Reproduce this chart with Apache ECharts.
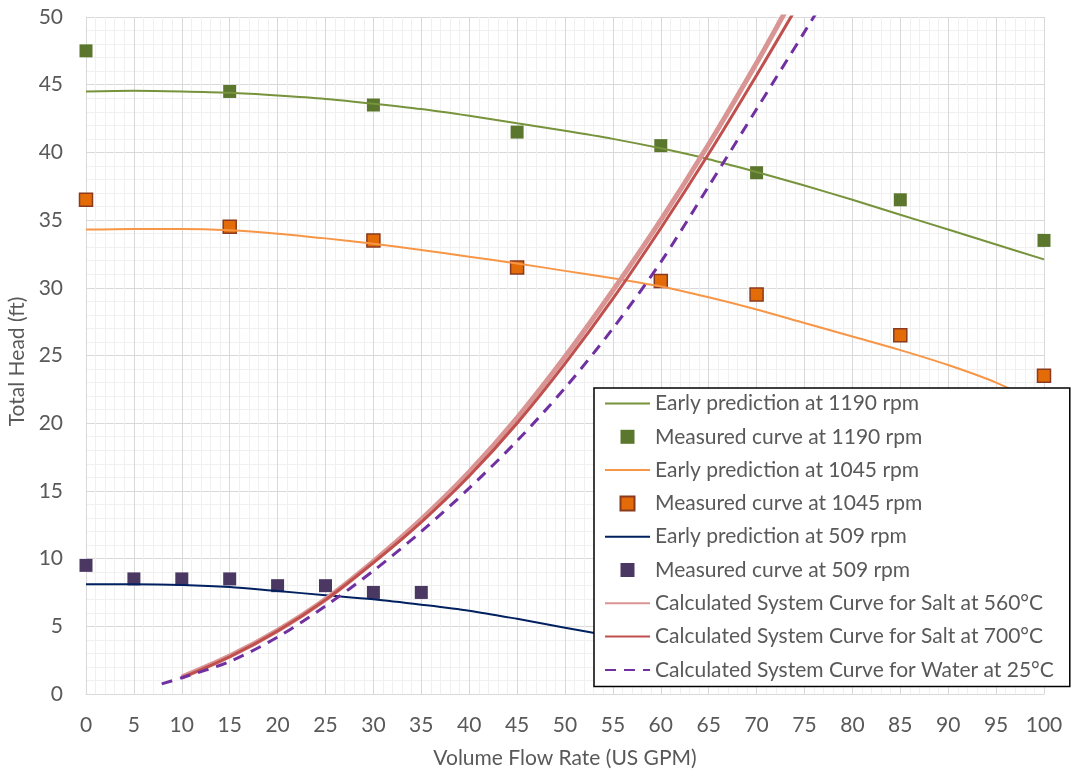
<!DOCTYPE html>
<html>
<head>
<meta charset="utf-8">
<script src="https://cdn.jsdelivr.net/npm/echarts@6/dist/echarts.min.js"></script>
<style>html,body{margin:0;padding:0;background:#fff}#c{width:1080px;height:773px}</style>
</head>
<body>
<div id="c"></div>
<script>
// ---- data ----
const predFlow = [0,5,10,15,20,25,30,35,40,45,50,55,60,65,70,75,80,85,90,95,100];
const pred1190 = [44.5,44.55,44.5,44.4,44.2,43.95,43.6,43.2,42.7,42.15,41.6,41.0,40.3,39.5,38.55,37.55,36.5,35.4,34.3,33.2,32.1];
const pred1045 = [34.3,34.35,34.35,34.25,34.0,33.65,33.25,32.8,32.3,31.8,31.25,30.7,30.1,29.3,28.4,27.4,26.4,25.4,24.3,23.0,21.3];
const pred509Flow = [0,5,10,15,20,25,30,35,40,45,50,55,60];
const pred509 = [8.1,8.1,8.05,7.9,7.6,7.3,7.0,6.6,6.15,5.55,4.9,4.25,3.6];

const meas1190Flow = [0,15,30,45,60,70,85,100];
const meas1190 = [47.5,44.5,43.5,41.5,40.5,38.5,36.5,33.5];
const meas1045Flow = [0,15,30,45,60,70,85,100];
const meas1045 = [36.5,34.5,33.5,31.5,30.5,29.5,26.5,23.5];
const meas509Flow = [0,5,10,15,20,25,30,35];
const meas509 = [9.5,8.5,8.5,8.5,8,8,7.5,7.5];

const salt560Flow = [10,15,20,25,30,35,40,45,50,55,60,65,70,73];
const salt560 = [1.25,2.8,4.7,7.0,9.8,12.9,16.4,20.4,24.9,29.8,35.0,40.6,46.6,50.4];
const salt700Flow = [10,15,20,25,30,35,40,45,50,55,60,65,70,74];
const salt700 = [1.2,2.75,4.65,6.95,9.7,12.7,16.1,20.0,24.4,29.2,34.4,39.9,45.7,50.5];
const waterFlow = [7.9,10,15,20,25,30,35,40,45,50,55,60,65,70,75,77];
const water = [0.75,1.2,2.4,4.2,6.5,9.1,12.0,15.2,18.7,22.6,27.0,31.9,37.5,43.2,48.9,51.2];

const xTicks = {min:0, max:100, step:5};
const yTicks = {min:0, max:50, step:5};

const zip = (xs, ys) => xs.map((x, i) => [x, ys[i]]);
const textColor = '#595959';
const font = 'Lato';
const sq = 'path://M0,0L10,0L10,10L0,10Z';
const noSym = {opacity: 0};

const option = {
  animation: false,
  textStyle: {fontFamily: font},
  grid: {left: 86, right: 36, top: 17, bottom: 79, containLabel: false, outerBoundsMode: 'none'},
  xAxis: {
    type: 'value', min: xTicks.min, max: xTicks.max, interval: xTicks.step,
    name: 'Volume Flow Rate (US GPM)', nameLocation: 'middle', nameGap: 54,
    nameTextStyle: {color: textColor, fontSize: 21, fontFamily: font},
    axisLine: {show: true, lineStyle: {color: '#D9D9D9', width: 1}},
    axisTick: {show: false},
    axisLabel: {color: textColor, fontSize: 21, margin: 21, fontFamily: font},
    splitLine: {show: true, lineStyle: {color: '#D9D9D9', width: 1}},
    minorTick: {show: false, splitNumber: 5},
    minorSplitLine: {show: true, lineStyle: {color: '#F0F0F0', width: 1}}
  },
  yAxis: {
    type: 'value', min: yTicks.min, max: yTicks.max, interval: yTicks.step,
    name: 'Total Head (ft)', nameLocation: 'middle', nameGap: 55, nameRotate: 90,
    nameTextStyle: {color: textColor, fontSize: 21, fontFamily: font, padding: [0, 12, 0, 0]},
    axisLine: {show: true, lineStyle: {color: '#D9D9D9', width: 1}},
    axisTick: {show: false},
    axisLabel: {color: textColor, fontSize: 21, margin: 23, fontFamily: font},
    splitLine: {show: true, lineStyle: {color: '#D9D9D9', width: 1}},
    minorTick: {show: false, splitNumber: 5},
    minorSplitLine: {show: true, lineStyle: {color: '#F0F0F0', width: 1}}
  },
  legend: {
    orient: 'vertical', left: 594, top: 388,
    backgroundColor: '#fff', borderColor: '#000', borderWidth: 1.5,
    padding: [5, 16, 6, 10],
    itemWidth: 45, itemHeight: 14, itemGap: 12.3,
    textStyle: {color: textColor, fontSize: 21, fontFamily: font, lineHeight: 21},
    z: 10,
    data: [
      {name: 'Early prediction at 1190 rpm', itemStyle: noSym},
      {name: 'Measured curve at 1190 rpm', icon: sq},
      {name: 'Early prediction at 1045 rpm', itemStyle: noSym},
      {name: 'Measured curve at 1045 rpm', icon: sq},
      {name: 'Early prediction at 509 rpm', itemStyle: noSym},
      {name: 'Measured curve at 509 rpm', icon: sq},
      {name: 'Calculated System Curve for Salt at 560°C', itemStyle: noSym},
      {name: 'Calculated System Curve for Salt at 700°C', itemStyle: noSym},
      {name: 'Calculated System Curve for Water at 25°C', itemStyle: noSym}
    ]
  },
  series: [
    {name: 'Early prediction at 1190 rpm', type: 'line', smooth: 0.3, showSymbol: false, symbol: 'none',
     data: zip(predFlow, pred1190), lineStyle: {color: '#77933C', width: 2}, itemStyle: {color: '#77933C'}},
    {name: 'Measured curve at 1190 rpm', type: 'scatter', symbol: 'rect', symbolSize: 13,
     data: zip(meas1190Flow, meas1190), itemStyle: {color: '#5B772E', opacity: 1}},
    {name: 'Early prediction at 1045 rpm', type: 'line', smooth: 0.3, showSymbol: false, symbol: 'none',
     data: zip(predFlow, pred1045), lineStyle: {color: '#F79646', width: 2}, itemStyle: {color: '#F79646'}},
    {name: 'Measured curve at 1045 rpm', type: 'scatter', symbol: 'rect', symbolSize: 13,
     data: zip(meas1045Flow, meas1045), itemStyle: {color: '#E36C09', borderColor: '#8A3A1E', borderWidth: 1.5, opacity: 1}},
    {name: 'Early prediction at 509 rpm', type: 'line', smooth: 0.3, showSymbol: false, symbol: 'none',
     data: zip(pred509Flow, pred509), lineStyle: {color: '#002060', width: 2}, itemStyle: {color: '#002060'}},
    {name: 'Measured curve at 509 rpm', type: 'scatter', symbol: 'rect', symbolSize: 13,
     data: zip(meas509Flow, meas509), itemStyle: {color: '#4A3862', opacity: 1}},
    {name: 'Calculated System Curve for Salt at 560°C', type: 'line', smooth: 0.3, showSymbol: false, symbol: 'none',
     data: zip(salt560Flow, salt560), lineStyle: {color: '#D99594', width: 5}, itemStyle: {color: '#D99594'}},
    {name: 'Calculated System Curve for Salt at 700°C', type: 'line', smooth: 0.3, showSymbol: false, symbol: 'none',
     data: zip(salt700Flow, salt700), lineStyle: {color: '#C0504D', width: 3}, itemStyle: {color: '#C0504D'}},
    {name: 'Calculated System Curve for Water at 25°C', type: 'line', smooth: 0.3, showSymbol: false, symbol: 'none',
     data: zip(waterFlow, water), lineStyle: {color: '#7030A0', width: 3, type: [11, 8]}, itemStyle: {color: '#7030A0'}}
  ]
};
const chart = echarts.init(document.getElementById('c'), null, {renderer: 'canvas'});
chart.setOption(option);
</script>
</body>
</html>
